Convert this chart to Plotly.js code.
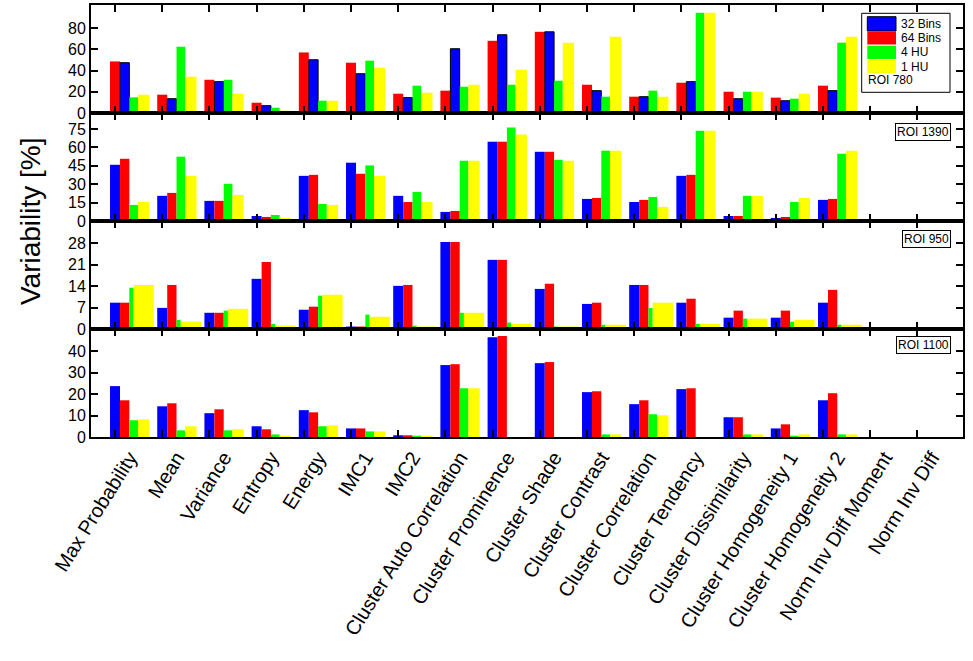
<!DOCTYPE html>
<html><head><meta charset="utf-8">
<script src="https://cdn.plot.ly/plotly-3.0.1.min.js"></script>
<style>html,body{margin:0;padding:0;background:#fff}#chart{width:973px;height:661px}</style>
</head><body><div id="chart"></div>
<script>
const categories = ['Max Probability','Mean','Variance','Entropy','Energy','IMC1','IMC2',
  'Cluster Auto Correlation','Cluster Prominence','Cluster Shade','Cluster Contrast',
  'Cluster Correlation','Cluster Tendency','Cluster Dissimilarity','Cluster Homogeneity 1',
  'Cluster Homogeneity 2','Norm Inv Diff Moment','Norm Inv Diff'];
const seriesNames = ['32 Bins','64 Bins','4 HU','1 HU'];
const seriesColors = ['#0000FF','#FF0000','#00FF00','#FFFF00'];
const roiLabels = ['ROI 780','ROI 1390','ROI 950','ROI 1100'];

const roi780_32  = [47.5,13.5,29.6,6.9,50.3,37.1,14.5,60.7,73.9,76.7,21.1,15.4,29.6,13.5,11.6,21.1,0,1.0];
const roi780_64  = [48.7,17.3,31.4,9.7,57.2,47.5,18.2,21.1,68.2,76.7,26.7,15.4,28.6,20.1,14.5,25.8,0,1.0];
const roi780_4hu = [14.8,62.6,31.4,5.0,11.6,49.4,25.8,24.8,26.7,30.5,15.4,21.1,94.7,20.1,13.5,66.4,0,1.0];
const roi780_1hu = [17.3,34.3,18.2,2.2,11.6,42.8,19.2,26.7,40.9,66.4,72.0,15.4,94.7,20.1,18.2,72.0,0,1.0];

const roi1390_32  = [45.8,20.5,16.4,4.1,36.8,47.5,20.5,7.4,64.6,56.4,18.0,15.5,36.8,4.1,2.5,17.2,0,0];
const roi1390_64  = [50.7,22.9,16.4,3.3,37.6,38.5,15.5,8.2,64.6,56.4,18.8,17.2,37.6,4.1,3.3,18.0,0.4,0.4];
const roi1390_4hu = [13.1,52.4,30.3,4.9,13.9,45.3,23.7,49.1,76.1,49.9,57.3,19.6,73.6,20.5,15.5,54.8,0.4,0.4];
const roi1390_1hu = [15.5,36.8,21.3,2.5,13.1,36.8,15.5,49.1,70.4,49.1,57.3,11.5,73.6,20.5,18.8,57.3,0,0];

const roi950_32  = [8.6,6.9,5.3,16.4,6.3,0.8,14.1,28.4,22.6,13.1,8.2,14.4,8.6,3.7,3.7,8.6,0,0.4];
const roi950_64  = [8.6,14.4,5.3,21.9,7.3,0.8,14.4,28.4,22.6,14.8,8.6,14.4,9.9,6.0,6.0,12.8,0.4,0.4];
const roi950_4hu = [13.5,3.0,6.0,1.7,10.9,4.7,1.1,5.3,2.1,0.8,1.4,6.9,1.7,3.4,2.4,1.4,0,0.3];
const roi950_1hu = [14.4,2.4,6.6,1.1,11.2,4.0,0.8,5.3,1.7,0.8,1.4,8.6,1.7,3.4,3.0,1.4,0,0.3];

const roi1100_32  = [23.7,14.3,11.1,5.0,12.5,4.0,0.8,33.5,46.5,34.4,20.9,15.3,22.3,9.2,4.0,17.1,0,0];
const roi1100_64  = [17.1,15.7,12.9,3.6,11.5,4.0,0.8,33.9,47.0,34.9,21.3,17.1,22.7,9.2,5.9,20.4,0,0];
const roi1100_4hu = [7.8,3.1,3.1,1.2,5.0,2.6,0.6,22.7,0,0,1.2,10.6,0,1.2,0.6,1.2,0,0];
const roi1100_1hu = [8.2,5.0,3.6,0.6,5.4,2.6,0.6,22.7,0,0,1.2,10.1,0,1.2,1.2,1.2,0,0];

const yTickStep = [20,15,7,10];
const yTickMax  = [80,75,28,40];
const yRangeMax = [102,88,35.3,50.3];

const panels = [
  [roi780_32, roi780_64, roi780_4hu, roi780_1hu],
  [roi1390_32, roi1390_64, roi1390_4hu, roi1390_1hu],
  [roi950_32, roi950_64, roi950_4hu, roi950_1hu],
  [roi1100_32, roi1100_64, roi1100_4hu, roi1100_1hu]
];

// ---- styling / geometry ----
const FONT = 'Liberation Sans, Arial, Helvetica, sans-serif';
const W = 973, H = 661, ML = 91, MR = 10, MT = 5, MB = 224;
const plotW = W - ML - MR, plotH = H - MT - MB, bottomPx = H - MB;
const px = x => (x - ML) / plotW;
const py = y => (bottomPx - y) / plotH;
const groupShift = 0.307;                 // bar groups sit right of each tick
const xRangeTicks = [-0.509, 17.967];     // ticks at category positions
const xRangeLabels = [xRangeTicks[0] - groupShift, xRangeTicks[1] - groupShift]; // labels at group centres

const slotStd = [[-0.413,0.212],[-0.201,0.197],[-0.004,0.184],[0.180,0.240]];
// [offset,width] per series (32,64,4HU,1HU) per panel, relative to group centre
const geom = [
  [slotStd[1], slotStd[0], slotStd[2], slotStd[3]],
  slotStd,
  [slotStd[0], slotStd[1], [-0.004,0.089], [0.085,0.43]],
  slotStd
];
const order = [[1,0,2,3],[0,1,2,3],[0,1,2,3],[0,1,2,3]];

const traces = [];
panels.forEach((series, p) => {
  const sfx = p === 0 ? '' : String(p + 1);
  order[p].forEach(s => {
    traces.push({
      type: 'bar',
      x: categories,
      y: series[s],
      name: seriesNames[s],
      xaxis: 'x' + sfx,
      yaxis: 'y' + sfx,
      offset: geom[p][s][0] + groupShift,
      width: geom[p][s][1],
      marker: {color: seriesColors[s],
               line: {color: '#000', width: (p === 0 && s === 0) ? 1 : 0}},
      showlegend: false,
      hoverinfo: 'x+y+name'
    });
  });
});
// carrier for the category-label axis (draws nothing)
traces.push({type: 'scatter', mode: 'none', x: categories, y: categories.map(() => null),
  xaxis: 'x5', yaxis: 'y4', showlegend: false, hoverinfo: 'skip'});

const layout = {
  width: W, height: H,
  margin: {l: ML, r: MR, t: MT, b: MB, pad: 0},
  paper_bgcolor: '#fff', plot_bgcolor: '#fff',
  font: {family: FONT, color: '#000', size: 16},
  barmode: 'overlay',
  showlegend: false,
  annotations: [],
  shapes: []
};

for (let p = 0; p < 4; p++) {
  const sfx = p === 0 ? '' : String(p + 1);
  const yt = [];
  for (let v = 0; v <= yTickMax[p] + 1e-9; v += yTickStep[p]) yt.push(v);
  layout['xaxis' + sfx] = {
    type: 'category', categoryorder: 'array', categoryarray: categories,
    range: xRangeTicks, anchor: 'y' + sfx,
    showticklabels: false, tickmode: 'linear', tick0: 0, dtick: 1,
    ticks: 'inside', ticklen: 7, tickwidth: 2, tickcolor: '#000',
    showline: true, linewidth: 2, linecolor: '#000', mirror: 'ticks',
    showgrid: false, zeroline: false
  };
  layout['yaxis' + sfx] = {
    domain: [(3 - p) * 0.25, (4 - p) * 0.25], range: [0, yRangeMax[p]], anchor: 'x' + sfx,
    tickmode: 'array', tickvals: yt, ticks: 'inside', ticklen: 7, tickwidth: 2, tickcolor: '#000',
    showline: true, linewidth: 2, linecolor: '#000', mirror: 'ticks',
    showgrid: false, zeroline: false,
    tickfont: {family: FONT, size: 16, color: '#000'}
  };
}
// label axis over the bottom panel
layout.xaxis5 = {
  type: 'category', categoryorder: 'array', categoryarray: categories,
  overlaying: 'x4', anchor: 'y4', side: 'bottom', range: xRangeLabels,
  tickmode: 'linear', tick0: 0, dtick: 1, ticks: '', showline: false,
  showgrid: false, zeroline: false, tickangle: -58, ticklabelstandoff: 4,
  tickfont: {family: FONT, size: 20, color: '#000'}
};

// y-axis title
layout.annotations.push({
  xref: 'paper', yref: 'paper', x: px(30), y: 0.5, xanchor: 'center', yanchor: 'middle',
  text: 'Variability [%]', textangle: -90, showarrow: false,
  font: {family: FONT, size: 28, color: '#000'}
});

// ROI boxes for panels 2-4
const roiY = [null, 131.8, 239, 344.5];
for (let p = 1; p < 4; p++) {
  layout.annotations.push({
    xref: 'paper', yref: 'paper', x: px(950.5), y: py(roiY[p]), xanchor: 'right', yanchor: 'middle',
    text: roiLabels[p], showarrow: false, bordercolor: '#000', borderwidth: 1, borderpad: 1,
    bgcolor: '#fff', font: {family: FONT, size: 12, color: '#000'}
  });
}

// legend box (panel 1)
layout.shapes.push({type: 'rect', xref: 'paper', yref: 'paper',
  x0: px(861.7), x1: px(950), y0: py(92.3), y1: py(13.3),
  line: {color: '#000', width: 1}, fillcolor: '#fff', layer: 'above'});
const swTop = [16.7, 31.5, 45.7, 60];
const swBot = [31, 44.5, 59, 73.3];
seriesNames.forEach((n, s) => {
  layout.shapes.push({type: 'rect', xref: 'paper', yref: 'paper',
    x0: px(867.3), x1: px(896), y0: py(swBot[s]), y1: py(swTop[s]),
    line: {color: s === 0 ? '#000' : seriesColors[s], width: s === 0 ? 1 : 0},
    fillcolor: seriesColors[s], layer: 'above'});
  layout.annotations.push({xref: 'paper', yref: 'paper', x: px(899), y: py((swTop[s] + swBot[s]) / 2),
    xanchor: 'left', yanchor: 'middle', text: n, showarrow: false,
    font: {family: FONT, size: 12, color: '#000'}});
});
layout.annotations.push({xref: 'paper', yref: 'paper', x: px(866), y: py(80.5),
  xanchor: 'left', yanchor: 'middle', text: roiLabels[0], showarrow: false,
  font: {family: FONT, size: 12, color: '#000'}});

Plotly.newPlot('chart', traces, layout, {staticPlot: true, displayModeBar: false});
</script>
</body></html>
